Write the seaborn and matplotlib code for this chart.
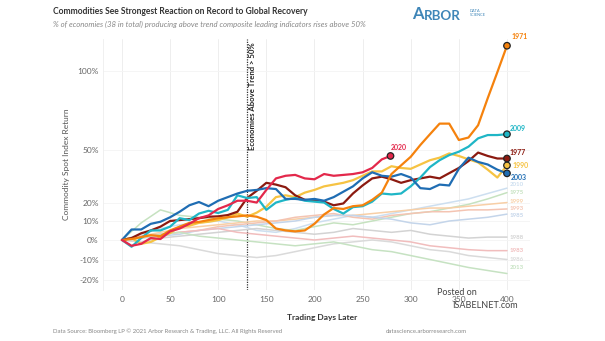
import numpy as np
import pandas as pd
import matplotlib
matplotlib.use("Agg")
import matplotlib.pyplot as plt
import seaborn as sns

# ---------------- data (percent returns) ----------------
days = list(range(0, 401, 10))
days_2020 = list(range(0, 271, 10)) + [279]
days_faded = list(range(0, 401, 20))

orange_1971 = [0, 0.5, 1.5, 2.5, 2, 5, 7, 9, 9.5, 10.5, 11.5, 12, 12.5, 13, 12.3, 10.5, 6, 5, 4.5, 5,
               8.5, 13.5, 17, 16.5, 18, 18.5, 21.5, 25.5, 36, 41, 46, 53, 59.5, 66, 66, 56, 57.5, 65, 82, 99, 117]
teal_2009 = [0, -3.5, 1, 5, 5, 7, 11.5, 10.5, 14, 15.5, 14.3, 16, 24, 22.5, 23, 16, 20, 21.5, 22.5, 21,
             20.5, 20, 16.5, 14, 17.5, 18, 20.5, 25, 24.5, 25, 29, 34, 40, 44, 47, 49, 52, 57, 59, 59, 59.5]
maroon_1977 = [0, 1, 3.5, 5, 7, 10, 10.5, 11, 11.5, 12.3, 12.5, 13.2, 15, 22.5, 26.5, 31, 30, 28.5, 24, 21.5,
               21, 20.5, 18.5, 19.5, 25, 29.5, 33.5, 34.5, 33, 31, 32.5, 33.5, 34.5, 33.5, 36.5, 39.5, 43.5, 48.5, 46.5, 45, 45]
blue_2003 = [0, 5.5, 5.5, 8.5, 9.6, 12, 15, 18.5, 20.3, 18, 21, 23, 25, 26.5, 27, 28, 27.5, 22, 22, 21.5,
             22, 21, 23, 26, 29, 33.5, 37, 35, 34.5, 36, 34, 28, 27.5, 30, 29.5, 39, 45.5, 43, 41.5, 38.5, 36.4]
yellow_1990 = [0, 1, -2, -1, 1.5, 3.6, 7, 7.5, 9, 9.6, 10.5, 12, 14, 12.3, 14.5, 17.7, 23, 24, 23, 25.5,
               27, 29, 30, 31, 32.5, 35, 37.5, 37.5, 40.5, 39.5, 39, 41.5, 44, 45.5, 48, 46.5, 44.5, 42.7, 38.5, 34, 41]
red_2020 = [0, -3, -2, 1, 0.5, 4.5, 6, 8.5, 11.5, 13, 16.5, 18.5, 21, 21, 20, 27, 33.5, 35, 35.5, 33.5,
            33, 36, 35, 35.5, 36, 37, 39.5, 44.5, 46.5]

f_2010 = [0, 3, 6, 8, 9, 10, 8, 5, 4, 6, 9, 11, 13, 12, 14, 16, 18, 20, 22, 25, 28]
f_1975 = [0, 9, 16, 13, 12, 11, 10, 8, 6, 5, 7, 9, 8, 10, 12, 14, 15, 17, 19, 22, 25.5]
f_1999 = [0, 2, 4, 6, 7, 8, 9, 10, 10, 11, 12, 13, 13, 14, 15, 16, 17, 17, 18, 19, 20]
f_1993 = [0, 1, 3, 4, 5, 7, 8, 9, 10, 12, 13, 14, 12, 11, 13, 14, 15, 15, 16, 16, 16.5]
f_1985 = [0, 1, 2, 3, 5, 6, 7, 8, 9, 10, 12, 13, 13, 12, 11, 9, 8, 10, 11, 12, 13.7]
f_1988 = [0, -1, 1, 2, 3, 4, 5, 6, 5, 4, 3, 4, 6, 5, 4, 5, 3, 2, 1, 1.5, 1.5]
f_1983 = [0, 2, 3, 4, 5, 6, 4, 3, 2, 1, 0, 1, 2, 1, 0, -1, -3, -4, -5, -5.5, -5.5]
f_1986 = [0, -1, -2, -3, -5, -7, -8, -9, -8, -6, -4, -2, -1, 0, -1, -3, -5, -6, -8, -9, -10]
f_2013 = [0, 1, 3, 4, 2, 1, 0, -1, -2, -3, -2, -1, -3, -5, -6, -8, -10, -12, -14, -15.5, -17]

y_ticks = [-20, -10, 0, 10, 20, 50, 100]
x_ticks = [0, 50, 100, 150, 200, 250, 300, 350, 400]

main_series = {
    "1990": (days, yellow_1990),
    "1977": (days, maroon_1977),
    "2009": (days, teal_2009),
    "2003": (days, blue_2003),
    "1971": (days, orange_1971),
    "2020": (days_2020, red_2020),
}
faded_series = {
    "2010": f_2010, "1975": f_1975, "1999": f_1999, "1993": f_1993, "1985": f_1985,
    "1988": f_1988, "1983": f_1983, "1986": f_1986, "2013": f_2013,
}

main_colors = {"1971": "#f5820d", "2009": "#1fb6c6", "1977": "#8b1a10",
               "2020": "#e3284b", "2003": "#1f6db3", "1990": "#f6c343"}
faded_colors = {"2010": "#cddff0", "1975": "#c6e2c0", "1999": "#f8cfa6", "1993": "#f4c4b2",
                "1985": "#c4d5ea", "1988": "#d3d3d3", "1983": "#f1bdbd", "1986": "#dadada",
                "2013": "#c6e2c2"}
# label offsets (points)
main_offsets = {"1971": (3, 6.5), "2009": (2, 4), "1977": (2, 4.5), "1990": (4, 0),
                "2003": (3, -3), "2020": (0, 6)}
faded_offsets = {"2010": (2, 2.5), "1975": (2, 0), "1999": (2, 0.8), "1993": (2, 0.6),
                 "1985": (2, -0.8), "1988": (2, 0), "1983": (2, 0), "1986": (2, 0), "2013": (2, 4.5)}

# ---------------- frames ----------------
rows = []
for name, vals in faded_series.items():
    for d, v in zip(days_faded, vals):
        rows.append((name, d, v))
faded_df = pd.DataFrame(rows, columns=["series", "day", "ret"])
rows = []
for name, (dd, vals) in main_series.items():
    for d, v in zip(dd, vals):
        rows.append((name, d, v))
main_df = pd.DataFrame(rows, columns=["series", "day", "ret"])
ends_df = main_df.groupby("series").tail(1)

# ---------------- figure ----------------
sns.set_theme(style="white")
plt.rcParams["font.family"] = ["Lato", "DejaVu Sans"]

fig = plt.figure(figsize=(6.05, 3.41), dpi=100)
ax = fig.add_axes([0.1702, 0.1496, 0.7058, 0.7361])

def fwd(p):
    return np.log(350.0 + np.asarray(p, dtype=float))

def inv(v):
    return np.exp(np.asarray(v, dtype=float)) - 350.0

ax.set_yscale("function", functions=(fwd, inv))

sns.lineplot(data=faded_df, x="day", y="ret", hue="series", hue_order=list(faded_series),
             palette=faded_colors, estimator=None, linewidth=1.1, legend=False, ax=ax)
sns.lineplot(data=main_df, x="day", y="ret", hue="series", hue_order=list(main_series),
             palette=main_colors, estimator=None, linewidth=1.6, legend=False, ax=ax)
sns.scatterplot(data=ends_df, x="day", y="ret", hue="series", palette=main_colors,
                s=22, edgecolor="#222222", linewidth=0.9, legend=False, ax=ax, zorder=5)

for name, vals in faded_series.items():
    dx, dy = faded_offsets[name]
    ax.annotate(name, (days_faded[-1], vals[-1]), xytext=(dx, dy), textcoords="offset points",
                ha="left", va="center", fontsize=4.4, color=faded_colors[name], fontweight="bold")
for name, (dd, vals) in main_series.items():
    dx, dy = main_offsets[name]
    ax.annotate(name, (dd[-1], vals[-1]), xytext=(dx, dy), textcoords="offset points",
                ha="left", va="center", fontsize=5, color=main_colors[name], fontweight="bold")

# threshold line
ax.axvline(130, color="#333333", linestyle=(0, (1, 1)), linewidth=0.9, zorder=1)
ax.text(136, 0.985, "Economies Above Trend > 50%", transform=ax.get_xaxis_transform(),
        rotation=90, ha="center", va="top", fontsize=5.6, fontweight="bold", color="#222222")

ax.set_xlim(-19.7, 423.9)
ax.set_ylim(-25.04, 121.7)
ax.set_xticks(x_ticks)
ax.set_xticklabels([str(t) for t in x_ticks])
ax.set_yticks(y_ticks)
ax.set_yticklabels([f"{t}%" for t in y_ticks])
ax.tick_params(axis="both", length=0, labelsize=6, colors="#666666")
ax.tick_params(axis="x", pad=4)
ax.tick_params(axis="y", pad=3)
ax.grid(axis="x", color="#ebebeb", linewidth=0.6)
ax.grid(axis="y", color="#f4f4f4", linewidth=0.6)
for s in ["top", "right", "bottom"]:
    ax.spines[s].set_visible(False)
ax.spines["left"].set_color("#eeeeee")
ax.spines["left"].set_linewidth(0.6)

ax.set_xlabel("Trading Days Later", fontsize=6, fontweight="bold", color="#333333")
ax.set_ylabel("Commodity Spot Index Return", fontsize=6, color="#555555")
ax.xaxis.set_label_coords(0.513, -0.096)
ax.yaxis.set_label_coords(-0.077, 0.5)

# titles
fig.text(0.0876, 0.965, "Commodities See Strongest Reaction on Record to Global Recovery",
         fontsize=6.15, fontweight="bold", color="#333333", va="center", ha="left")
fig.text(0.0876, 0.927,
         "% of economies (38 in total) producing above trend composite leading indicators rises above 50%",
         fontsize=5.6, style="italic", color="#888888", va="center", ha="left")

# logo
logo_a = fig.text(0.681, 0.943, "A", fontsize=12, color="#3f86b8", va="baseline", ha="left",
                  fontweight="bold")
fig.canvas.draw()
ax.annotate("RBOR", xy=(1, 0), xycoords=logo_a, xytext=(0.3, 0), textcoords="offset points",
            fontsize=9.6, color="#3f86b8", va="bottom", ha="left", annotation_clip=False,
            fontweight="bold")
fig.text(0.776, 0.962, "DATA\nSCIENCE", fontsize=2.8, color="#3f86b8", va="center", ha="left",
         linespacing=1.0)

# footer
fig.text(0.0876, 0.029, "Data Source: Bloomberg LP \u00a9 2021 Arbor Research & Trading, LLC. All Rights Reserved",
         fontsize=4.3, color="#888888", va="center", ha="left")
fig.text(0.772, 0.027, "datascience.arborresearch.com", fontsize=4.3, color="#888888",
         va="center", ha="right")

# watermark
fig.text(0.722, 0.143, "Posted on", fontsize=6.5, color="#444444", va="center", ha="left")
fig.text(0.747, 0.105, "ISABELNET.com", fontsize=6.5, color="#444444", va="center", ha="left")

fig.savefig("out.png", dpi=100)
